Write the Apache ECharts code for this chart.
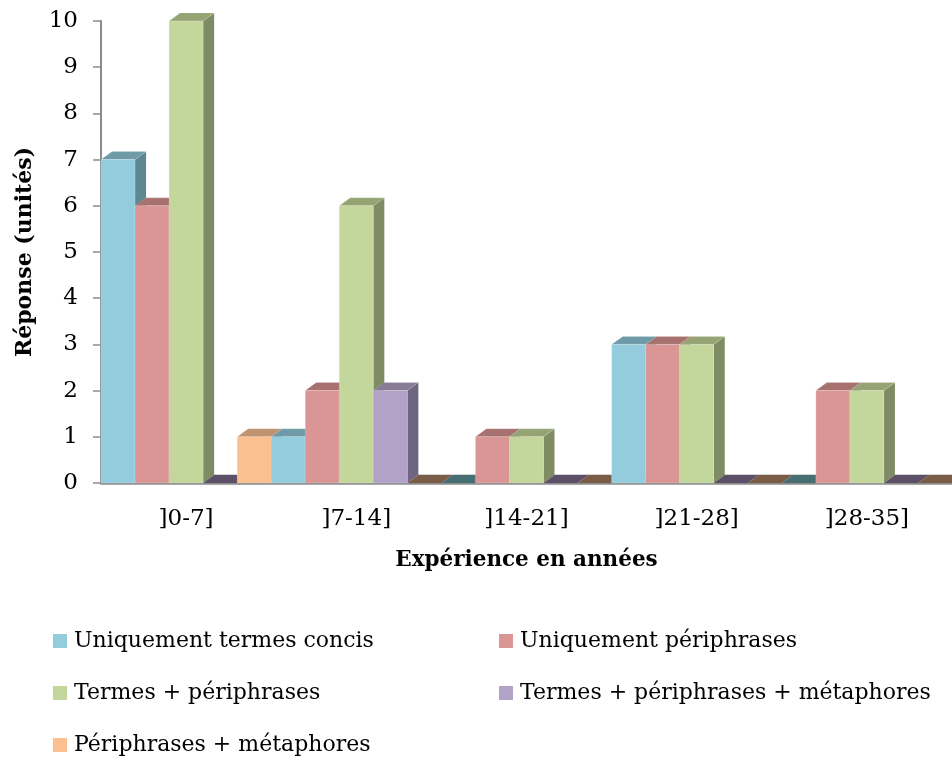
<!DOCTYPE html>
<html>
<head>
<meta charset="utf-8">
<script src="https://cdn.jsdelivr.net/npm/echarts@6/dist/echarts.min.js"></script>
<style>
html,body{margin:0;padding:0;background:#fff;}
#chart{width:952px;height:760px;}
</style>
</head>
<body>
<div id="chart"></div>
<script>
const categories = [']0-7]', ']7-14]', ']14-21]', ']21-28]', ']28-35]'];
const seriesNames = ['Uniquement termes concis', 'Uniquement périphrases', 'Termes + périphrases', 'Termes + périphrases + métaphores', 'Périphrases + métaphores'];
const termesConcis = [7, 1, 0, 3, 0];
const periphrases = [6, 2, 1, 3, 2];
const termesPeriphrases = [10, 6, 1, 3, 2];
const termesPeriphrasesMetaphores = [0, 2, 0, 0, 0];
const periphrasesMetaphores = [1, 0, 0, 0, 0];
const yTicks = [0, 1, 2, 3, 4, 5, 6, 7, 8, 9, 10];

const seriesValues = [termesConcis, periphrases, termesPeriphrases, termesPeriphrasesMetaphores, periphrasesMetaphores];
const palette = [
  {front:'#93CDDD', top:'#6F9BA8', side:'#5F8791', flat:'#466E73'},
  {front:'#D99694', top:'#A6716F', side:'#8E5F5E', flat:'#7A4E4D'},
  {front:'#C3D69B', top:'#96A474', side:'#7E8B63', flat:'#67724F'},
  {front:'#B3A2C7', top:'#887B98', side:'#6F6580', flat:'#5B5068'},
  {front:'#FAC090', top:'#BF9270', side:'#A27C5E', flat:'#7B5D47'}
];
const DX = 11, DY = -8;
const nS = seriesValues.length;

function makeRender(sIdx){
  return function(params, api){
    const cat = api.value(0), val = api.value(1);
    const band = api.size([1,0])[0];
    const w = band / nS;
    const p0 = api.coord([cat, 0]);
    const base = p0[1];
    const x0 = p0[0] - band/2 + sIdx*w;
    const x1 = x0 + w;
    const top = api.coord([cat, val])[1];
    const c = palette[sIdx];
    const order = (cat*nS + sIdx) * 10 + 10;
    const children = [];
    if (val === 0) {
      children.push({type:'polygon', z2:order, shape:{points:[[x0,base],[x1,base],[x1+DX,base+DY],[x0+DX,base+DY]]}, style:{fill:c.flat}});
    } else {
      children.push({type:'polygon', z2:order, shape:{points:[[x1,base],[x1+DX,base+DY],[x1+DX,top+DY],[x1,top]]}, style:{fill:c.side}});
      children.push({type:'polygon', z2:order+1, shape:{points:[[x0,top],[x1,top],[x1+DX,top+DY],[x0+DX,top+DY]]}, style:{fill:c.top, stroke:'rgba(255,255,255,0.25)', lineWidth:0.6}});
      children.push({type:'rect', z2:order+2, shape:{x:x0, y:top, width:w, height:base-top}, style:{fill:c.front, stroke:'rgba(255,255,255,0.3)', lineWidth:0.6}});
    }
    return {type:'group', children:children};
  };
}

function floorRender(params, api){
  const band = api.size([1,0])[0];
  const a = api.coord([0, 0]);
  const b = api.coord([categories.length-1, 0]);
  const xs = a[0] - band/2, xe = b[0] + band/2;
  return {type:'group', children:[
    {type:'polyline', z2:1, shape:{points:[[xs+DX, a[1]+DY],[xe+DX, a[1]+DY]]}, style:{stroke:'#c4c4c4', lineWidth:1.5, fill:null}},
    {type:'polygon', z2:0, shape:{points:[[xs,a[1]],[xe,a[1]],[xe+DX,a[1]+DY],[xs+DX,a[1]+DY]]}, style:{fill:'#f7f7f7'}}
  ]};
}

const series = seriesValues.map((vals, s) => ({
  name: seriesNames[s],
  type: 'custom',
  renderItem: makeRender(s),
  itemStyle: {color: palette[s].front},
  encode: {x: 0, y: 1},
  data: vals.map((v, i) => [i, v]),
  clip: false,
  silent: true
}));
series.unshift({
  name: 'floor', type: 'custom', renderItem: floorRender, data: [[0, 0]], silent: true, encode:{x:0,y:1}
});

const fontFam = '"DejaVu Serif", serif';
const legendBase = {
  orient: 'vertical', top: 630, icon: 'rect', padding: 0,
  itemWidth: 14, itemHeight: 14, itemGap: 30, selectedMode: false,
  textStyle: {color: '#000', fontFamily: fontFam, fontSize: 22, lineHeight: 22, padding: [0,0,0,2]}
};
const chart = echarts.init(document.getElementById('chart'), null, {renderer:'canvas'});
chart.setOption({
  animation: false,
  backgroundColor: '#ffffff',
  grid: {left: 101, right: 0, top: 21, bottom: 277, containLabel: false},
  xAxis: {
    type: 'category', data: categories, boundaryGap: true,
    axisLine: {show: true, lineStyle: {color: '#8c8c8c', width: 2.5}},
    axisTick: {show: false},
    axisLabel: {color: '#000', fontFamily: fontFam, fontSize: 23, margin: 25},
    name: 'Expérience en années', nameLocation: 'middle', nameGap: 66,
    nameTextStyle: {color: '#000', fontFamily: fontFam, fontSize: 21.5, fontWeight: 'bold'}
  },
  yAxis: {
    type: 'value', min: yTicks[0], max: yTicks[yTicks.length-1], interval: 1,
    axisLine: {show: true, lineStyle: {color: '#8c8c8c', width: 2}},
    axisTick: {show: true, length: 8, lineStyle: {color: '#8c8c8c', width: 1.5}},
    splitLine: {show: false},
    axisLabel: {color: '#000', fontFamily: fontFam, fontSize: 23, margin: 23},
    name: 'Réponse (unités)', nameLocation: 'middle', nameGap: 65, nameRotate: 90,
    nameTextStyle: {color: '#000', fontFamily: fontFam, fontSize: 22, fontWeight: 'bold'}
  },
  legend: [
    Object.assign({}, legendBase, {left: 53, data: [seriesNames[0], seriesNames[2], seriesNames[4]]}),
    Object.assign({}, legendBase, {left: 499, data: [seriesNames[1], seriesNames[3]]})
  ],
  series: series
});
</script>
</body>
</html>
